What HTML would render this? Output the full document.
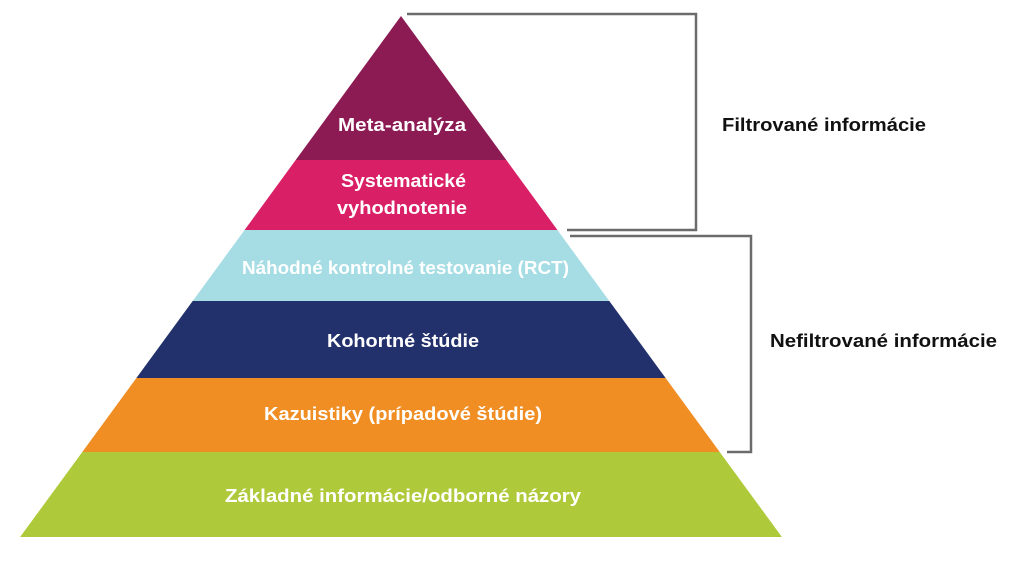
<!DOCTYPE html>
<html>
<head>
<meta charset="utf-8">
<style>
  html, body { margin: 0; padding: 0; background: #ffffff; }
  body { width: 1024px; height: 581px; overflow: hidden; }
  svg { display: block; }
  text { font-family: "Liberation Sans", "DejaVu Sans", sans-serif; font-weight: bold; }
</style>
</head>
<body>
<svg width="1024" height="581" viewBox="0 0 1024 581" xmlns="http://www.w3.org/2000/svg">
  <rect x="0" y="0" width="1024" height="581" fill="#ffffff"/>

  <!-- Pyramid bands -->
  <polygon points="401,16 506.3,160 295.7,160" fill="#8C1B54"/>
  <polygon points="295.7,160 506.3,160 557.4,230 244.6,230" fill="#D91F65"/>
  <polygon points="244.6,230 557.4,230 609.3,301 192.7,301" fill="#A6DDE4"/>
  <polygon points="192.7,301 609.3,301 665.6,378 136.4,378" fill="#22306B"/>
  <polygon points="136.4,378 665.6,378 719.7,452 82.3,452" fill="#F08D23"/>
  <polygon points="82.3,452 719.7,452 781.9,537 20.1,537" fill="#AECA3A"/>

  <!-- Brackets -->
  <path d="M407,14 H696 V230 H567" fill="none" stroke="#6b6b6b" stroke-width="2.5"/>
  <path d="M570,236 H751 V452 H727" fill="none" stroke="#6b6b6b" stroke-width="2.5"/>

  <!-- Pyramid labels -->
  <g fill="#ffffff" font-size="18.5">
    <text x="338" y="131" textLength="128" lengthAdjust="spacingAndGlyphs">Meta-analýza</text>
    <text x="341" y="187" textLength="125" lengthAdjust="spacingAndGlyphs">Systematické</text>
    <text x="337" y="214" textLength="130" lengthAdjust="spacingAndGlyphs">vyhodnotenie</text>
    <text x="242" y="274" textLength="327" lengthAdjust="spacingAndGlyphs">Náhodné kontrolné testovanie (RCT)</text>
    <text x="327" y="347" textLength="152" lengthAdjust="spacingAndGlyphs">Kohortné štúdie</text>
    <text x="264" y="420" textLength="278" lengthAdjust="spacingAndGlyphs">Kazuistiky (prípadové štúdie)</text>
    <text x="225" y="502" textLength="356" lengthAdjust="spacingAndGlyphs">Základné informácie/odborné názory</text>
  </g>

  <!-- Side labels -->
  <g fill="#111111" font-size="18.5">
    <text x="722" y="131" textLength="204" lengthAdjust="spacingAndGlyphs">Filtrované informácie</text>
    <text x="770" y="347" textLength="227" lengthAdjust="spacingAndGlyphs">Nefiltrované informácie</text>
  </g>
</svg>
</body>
</html>
